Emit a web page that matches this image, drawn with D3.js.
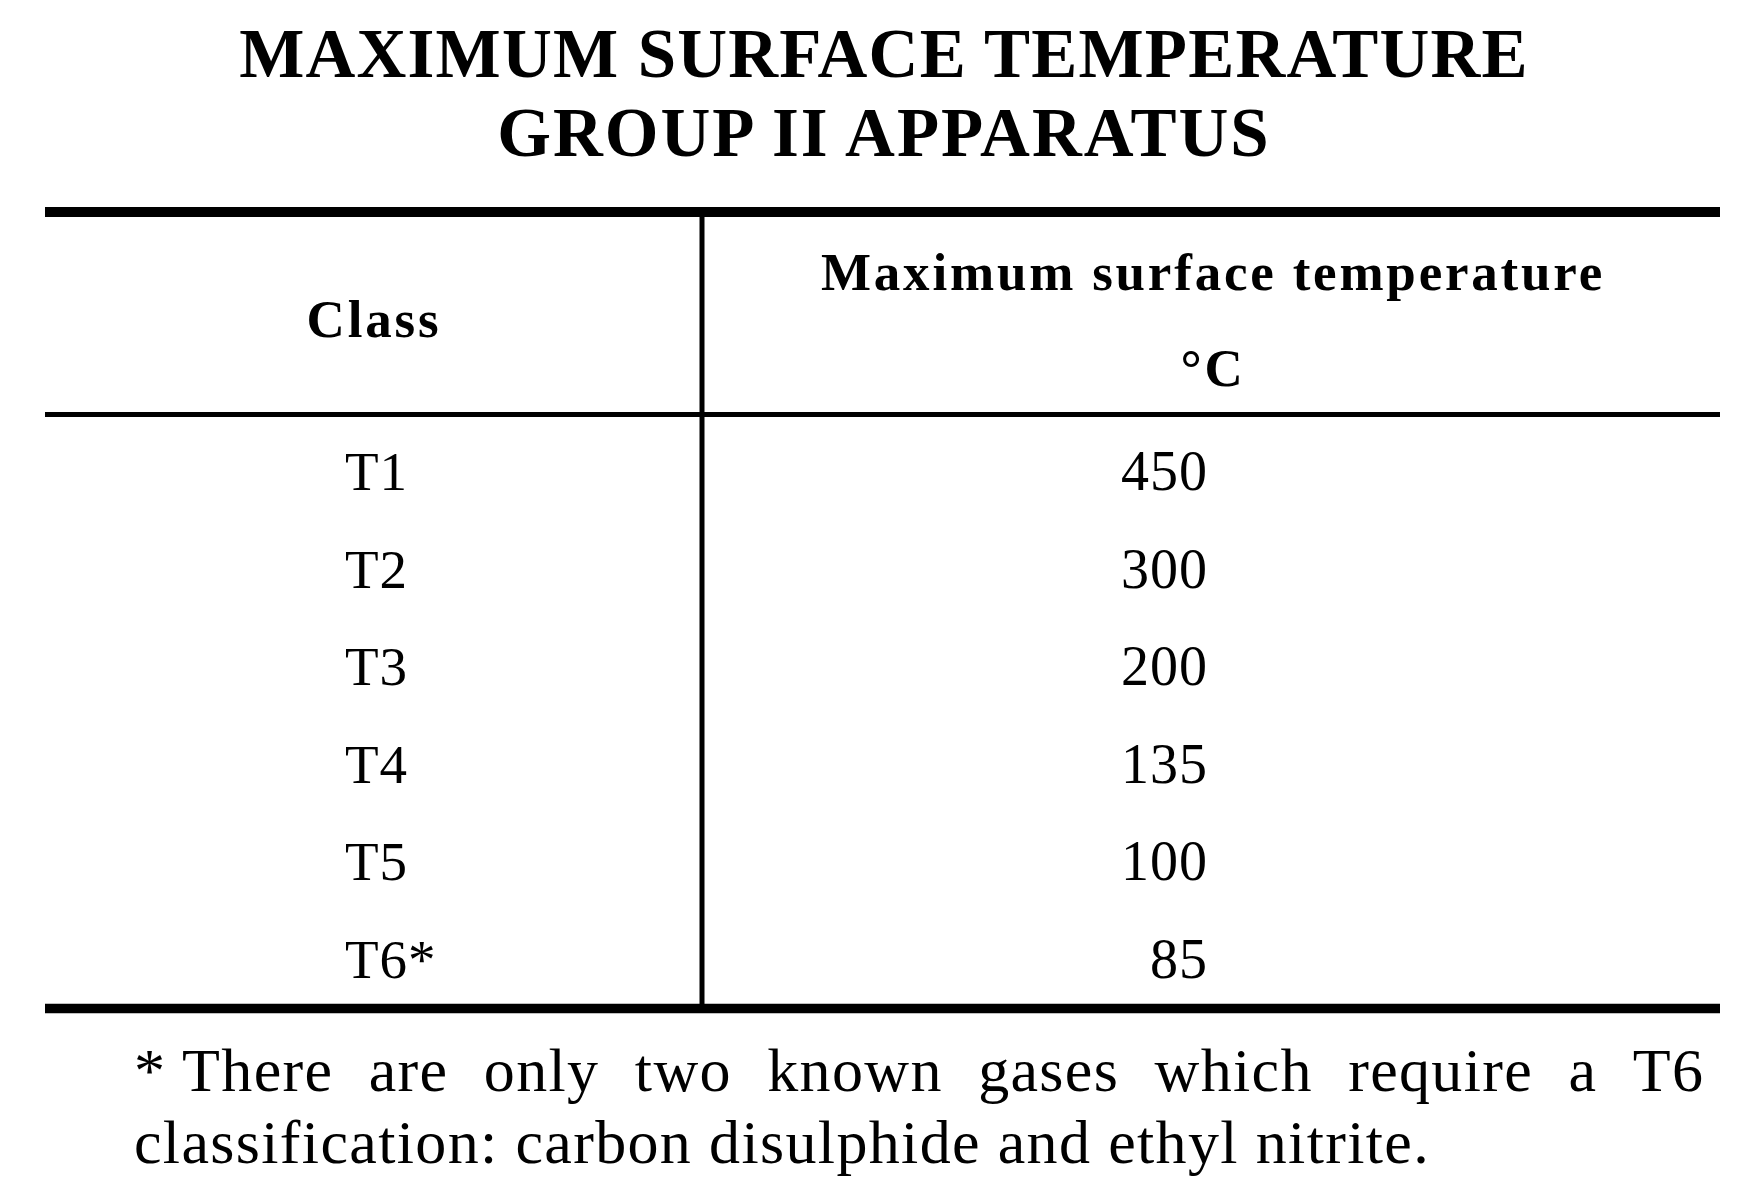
<!DOCTYPE html>
<html>
<head>
<meta charset="utf-8">
<script src="https://cdn.jsdelivr.net/npm/d3@7"></script>
<style>
  html, body { margin: 0; padding: 0; background: #ffffff; }
  svg { display: block; }
  text { font-family: "Liberation Serif", "Times New Roman", serif; fill: #000; }
</style>
</head>
<body>
<svg id="chart" width="1744" height="1184"></svg>
<script>
// ---- data ----
const titleLines = ["MAXIMUM SURFACE TEMPERATURE", "GROUP II APPARATUS"];
const headerClass = "Class";
const headerTemp = ["Maximum surface temperature", "°C"];
const classes = ["T1", "T2", "T3", "T4", "T5", "T6*"];
const maxTemps = [450, 300, 200, 135, 100, 85];
const footnoteLine1 = ["* There", "are", "only", "two", "known", "gases", "which", "require", "a", "T6"];
const footnoteLine2 = "classification: carbon disulphide and ethyl nitrite.";

// ---- layout ----
const svg = d3.select("#chart");

const tableLeft = 45, tableRight = 1720, colSplit = 702;
const topRuleY = 212, headRuleY = 414.5, bottomRuleY = 1008.5;

// Title
svg.selectAll("text.title")
  .data(titleLines)
  .join("text")
  .attr("class", "title")
  .attr("x", 884)
  .attr("y", (d, i) => [77, 156][i])
  .attr("text-anchor", "middle")
  .style("font-size", "69px")
  .style("font-weight", "bold")
  .style("letter-spacing", (d, i) => [1.2, 2][i] + "px")
  .text(d => d);

// Rules
svg.append("line")
  .attr("x1", tableLeft).attr("x2", tableRight)
  .attr("y1", topRuleY).attr("y2", topRuleY)
  .attr("stroke", "#000").attr("stroke-width", 10);
svg.append("line")
  .attr("x1", tableLeft).attr("x2", tableRight)
  .attr("y1", headRuleY).attr("y2", headRuleY)
  .attr("stroke", "#000").attr("stroke-width", 5);
svg.append("line")
  .attr("x1", tableLeft).attr("x2", tableRight)
  .attr("y1", bottomRuleY).attr("y2", bottomRuleY)
  .attr("stroke", "#000").attr("stroke-width", 9.5);
svg.append("line")
  .attr("x1", colSplit).attr("x2", colSplit)
  .attr("y1", topRuleY).attr("y2", bottomRuleY)
  .attr("stroke", "#000").attr("stroke-width", 5);

// Header
svg.append("text")
  .attr("x", 374).attr("y", 337)
  .attr("text-anchor", "middle")
  .style("font-size", "53px").style("font-weight", "bold")
  .style("letter-spacing", "2.8px")
  .text(headerClass);

svg.selectAll("text.htemp")
  .data(headerTemp)
  .join("text")
  .attr("class", "htemp")
  .attr("x", 1213)
  .attr("y", (d, i) => [290, 386][i])
  .attr("text-anchor", "middle")
  .style("font-size", "53px").style("font-weight", "bold")
  .style("letter-spacing", "2.8px")
  .text(d => d);

// Rows via a point scale
const y = d3.scalePoint().domain(classes).range([490, 978]);

const rows = classes.map((c, i) => ({ cls: c, temp: maxTemps[i] }));

svg.selectAll("text.cls")
  .data(rows)
  .join("text")
  .attr("class", "cls")
  .attr("x", 345)
  .attr("y", d => y(d.cls))
  .style("font-size", "55px")
  .style("letter-spacing", "1px")
  .text(d => d.cls);

svg.selectAll("text.val")
  .data(rows)
  .join("text")
  .attr("class", "val")
  .attr("x", 1208)
  .attr("y", d => y(d.cls))
  .attr("text-anchor", "end")
  .style("font-size", "56px")
  .style("letter-spacing", "1px")
  .text(d => d.temp);

// Footnote: first line justified word by word
const fnSize = 62, fnLS = 1.35;
const fnLeft = 134, fnRight = 1703;
const wordSel = svg.selectAll("text.fnw")
  .data(footnoteLine1)
  .join("text")
  .attr("class", "fnw")
  .attr("y", 1091)
  .style("font-size", fnSize + "px")
  .style("letter-spacing", fnLS + "px")
  .style("white-space", "pre")
  .text(d => d);
const widths = [];
wordSel.each(function() { widths.push(this.getComputedTextLength()); });
const totalW = d3.sum(widths) - fnLS;
const gap = (fnRight - fnLeft - totalW) / (footnoteLine1.length - 1);
let cx = fnLeft;
wordSel.each(function(d, i) {
  d3.select(this).attr("x", cx);
  cx += widths[i] + gap;
});

svg.append("text")
  .attr("x", fnLeft).attr("y", 1163)
  .style("font-size", fnSize + "px")
  .style("letter-spacing", fnLS + "px")
  .text(footnoteLine2);
</script>
</body>
</html>
